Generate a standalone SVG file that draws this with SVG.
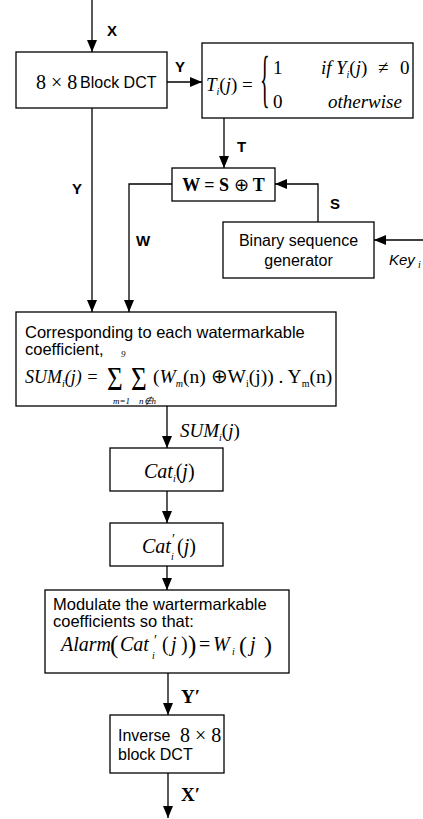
<svg xmlns="http://www.w3.org/2000/svg" width="423" height="819" viewBox="0 0 423 819">
<defs>
<marker id="ah" markerUnits="userSpaceOnUse" markerWidth="12" markerHeight="10" refX="12" refY="5" orient="auto">
<path d="M0,0 L12,5 L0,10 z" fill="#000"/>
</marker>
<style>
.box{fill:#fff;stroke:#000;stroke-width:1.3}
.c{fill:none;stroke:#000;stroke-width:1.3;marker-end:url(#ah)}
.sans{font-family:"Liberation Sans",Arial,sans-serif;font-size:16px;fill:#000}
.lbl{font-family:"Liberation Sans",Arial,sans-serif;font-size:15px;font-weight:bold;fill:#000}
.m{font-family:"Liberation Serif","Times New Roman",serif;font-size:19px;fill:#000}
.it{font-style:italic}
.sub{font-size:10px}
.bm{font-family:"Liberation Serif","Times New Roman",serif;font-size:19px;font-weight:bold;fill:#000}
</style>
</defs>
<rect width="423" height="819" fill="#fff"/>

<g id="connectors">
<path class="c" d="M92,0 V52"/>
<path class="c" d="M167,82 H202"/>
<path class="c" d="M92,108 V312"/>
<path class="c" d="M224,118 V168"/>
<path class="c" d="M172,184 H129 V312"/>
<path class="c" d="M318,222 V184 H275"/>
<path class="c" d="M423,240 H374"/>
<path class="c" d="M167,406 V448"/>
<path class="c" d="M167,491 V523"/>
<path class="c" d="M167,566 V590"/>
<path class="c" d="M168,673 V715"/>
<path class="c" d="M168,773 V818"/>
<text class="lbl" x="107" y="36">X</text>
<text class="lbl" x="175" y="72">Y</text>
<text class="lbl" x="72" y="194">Y</text>
<text class="lbl" x="237" y="152">T</text>
<text class="lbl" x="136" y="246">W</text>
<text class="lbl" x="330" y="209">S</text>
<text class="sans it" x="389" y="265" style="font-size:15px">Key</text>
<text class="m it sub" x="418" y="268">i</text>
<text class="m it" x="180" y="437">SUM<tspan class="sub" dy="4">i</tspan><tspan dy="-4" font-style="normal">(</tspan>j<tspan font-style="normal">)</tspan></text>
<text class="bm" x="181" y="703">Y′</text>
<text class="bm" x="181" y="801">X′</text>
</g>

<g id="dct">
<rect class="box" x="16" y="52" width="151" height="56"/>
<text class="m" x="36" y="89" style="font-size:20px">8 × 8</text>
<text class="sans" x="80" y="88">Block DCT</text>
</g>

<g id="tfunc">
<rect class="box" x="202" y="43" width="211" height="75"/>
<text class="m it" x="206" y="91">T<tspan class="sub" dy="4">i</tspan><tspan dy="-4" font-style="normal">(</tspan>j<tspan font-style="normal">) =</tspan></text>
<text class="m" transform="translate(260,100) scale(0.5,1.6)" style="font-size:40px">{</text>
<text class="m" x="273" y="74">1</text>
<text class="m it" x="321" y="74">if</text>
<text class="m it" x="336" y="74">Y<tspan class="sub" dy="4">i</tspan><tspan dy="-4" font-style="normal">(</tspan>j<tspan font-style="normal">)</tspan></text>
<text class="m" x="378" y="74">≠</text>
<text class="m" x="400" y="74">0</text>
<text class="m" x="273" y="108">0</text>
<text class="m it" x="328" y="108">otherwise</text>
</g>

<g id="wxor">
<rect class="box" x="172" y="168" width="103" height="33"/>
<text class="bm" x="223.5" y="191" text-anchor="middle" style="font-size:18px">W = S <tspan font-weight="normal">⊕</tspan> T</text>
</g>

<g id="bsg">
<rect class="box" x="223" y="222" width="151" height="56"/>
<text class="sans" x="298.5" y="246" text-anchor="middle">Binary sequence</text>
<text class="sans" x="298.5" y="266" text-anchor="middle">generator</text>
</g>

<g id="sum">
<rect class="box" x="16" y="312" width="320" height="94"/>
<text class="sans" x="25" y="338" style="font-size:16.5px">Corresponding to each watermarkable</text>
<text class="sans" x="25" y="355" style="font-size:16.5px">coefficient,</text>
<text class="m it" x="25" y="383" style="font-size:18px">SUM<tspan class="sub" dy="4">i</tspan><tspan dy="-4">(j) =</tspan></text>
<text class="m" transform="translate(107,390) scale(1,1.25)" style="font-size:27px">Σ</text>
<text class="m" transform="translate(131,390) scale(1,1.25)" style="font-size:27px">Σ</text>
<text class="m it" x="121" y="357" style="font-size:9px">9</text>
<text class="m it" x="113" y="404" style="font-size:9px">m=1</text>
<text class="m it" x="139" y="404" style="font-size:9px">n∉h</text>
<text class="m" x="153" y="383" style="font-size:19.5px">(<tspan font-style="italic">W</tspan><tspan class="sub it" dy="4">m</tspan><tspan dy="-4">(n) ⊕W</tspan><tspan class="sub" dy="4">i</tspan><tspan dy="-4">(j)) . Y</tspan><tspan class="sub" dy="4">m</tspan><tspan dy="-4">(n)</tspan></text>
</g>

<g id="cat">
<rect class="box" x="110" y="448" width="113" height="43"/>
<text class="m it" x="144" y="478" style="font-size:20px">Cat<tspan class="sub" dy="4">i</tspan><tspan dy="-4" font-style="normal">(</tspan>j<tspan font-style="normal">)</tspan></text>
</g>

<g id="catp">
<rect class="box" x="110" y="523" width="113" height="43"/>
<text class="m it" x="142" y="553" style="font-size:20px">Cat</text>
<text class="m" x="172" y="544" style="font-size:14px">′</text>
<text class="m it sub" x="171" y="560">i</text>
<text class="m" x="177" y="553" style="font-size:20px">(<tspan font-style="italic">j</tspan>)</text>
</g>

<g id="modulate">
<rect class="box" x="45" y="590" width="244" height="83"/>
<text class="sans" x="53" y="610" style="font-size:16.5px">Modulate the wartermarkable</text>
<text class="sans" x="53" y="627" style="font-size:16.5px">coefficients so that:</text>
<text class="m it" x="61" y="651" style="font-size:20px">Alarm</text>
<text class="m" x="110" y="653" style="font-size:25px">(</text>
<text class="m it" x="120" y="651" style="font-size:20px">Cat</text>
<text class="m" x="154" y="645" style="font-size:14px">′</text>
<text class="m it sub" x="152" y="659">i</text>
<text class="m" x="162" y="651" style="font-size:20px">(</text>
<text class="m it" x="171" y="651" style="font-size:20px">j</text>
<text class="m" x="181" y="651" style="font-size:20px">)</text>
<text class="m" x="188" y="653" style="font-size:25px">)</text>
<text class="m" x="199" y="651" style="font-size:20px">=</text>
<text class="m it" x="213" y="651" style="font-size:20px">W</text>
<text class="m it sub" x="232" y="655">i</text>
<text class="m" x="239" y="653" style="font-size:24px">(</text>
<text class="m it" x="250" y="651" style="font-size:20px">j</text>
<text class="m" x="264" y="653" style="font-size:24px">)</text>
</g>

<g id="inverse">
<rect class="box" x="110" y="715" width="114" height="58"/>
<text class="sans" x="118" y="741">Inverse</text>
<text class="m" x="180" y="742" style="font-size:20px">8 × 8</text>
<text class="sans" x="118" y="760">block DCT</text>
</g>
</svg>
